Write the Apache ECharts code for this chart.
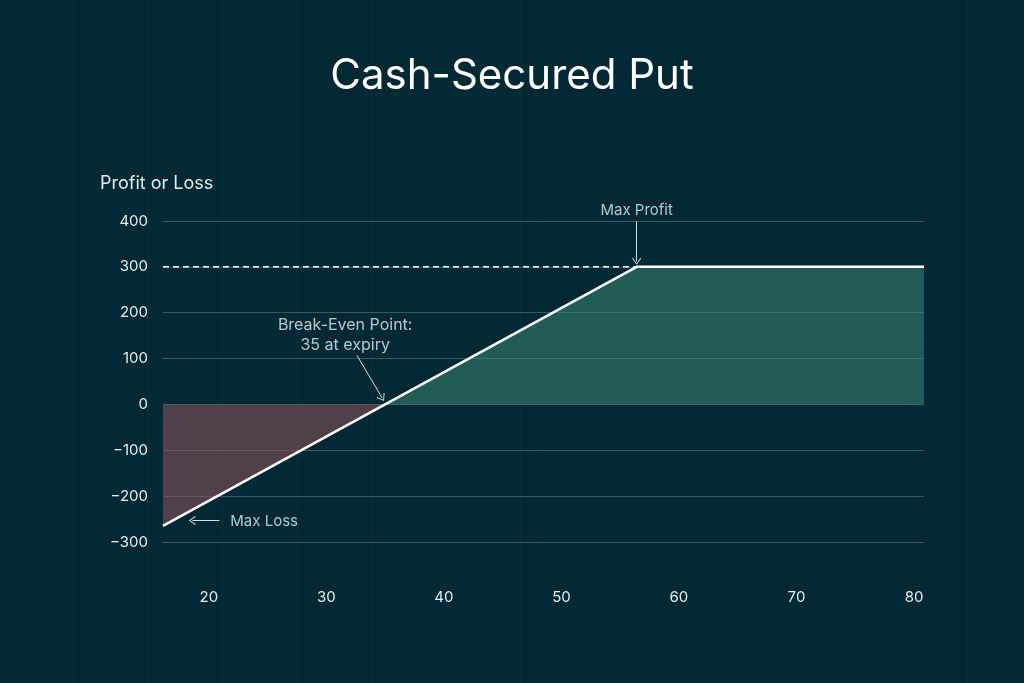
<!DOCTYPE html>
<html>
<head>
    <meta charset="UTF-8">
    <title>Cash-Secured Put</title>
    <script src="https://cdnjs.cloudflare.com/ajax/libs/echarts/6.0.0/echarts.min.js"></script>
    <style>
        html, body {
            margin: 0;
            padding: 0;
        }
        body {
            width: 1024px;
            height: 683px;
            background-color: #022935;
            background-image:
                linear-gradient(to right, rgba(255, 255, 255, 0.022) 1px, transparent 1px),
                linear-gradient(to bottom, rgba(255, 255, 255, 0.022) 1px, transparent 1px);
            background-size: 74.5px 74.5px;
            background-position: -1.5px 44px;
            overflow: hidden;
        }
        #chart {
            width: 1024px;
            height: 683px;
        }
    </style>
</head>
<body>
    <div id="chart"></div>

    <script>
        // payoff at expiry (underlying price -> profit/loss)
        const payoffX = [16.1, 35, 56.4, 80.85];
        const payoffY = [-265, 0, 300, 300];
        const maxProfit = 300;
        const xTickLabels = [20, 30, 40, 50, 60, 70, 80];

        // annotation texts and arrows, in data units
        const noteTexts = ['Max Profit', 'Break-Even Point:\n35 at expiry', 'Max Loss'];
        const noteX = [56.4, 31.6, 21.4];
        const noteY = [424, 150, -255];
        const arrowFrom = [[56.4, 399.5], [32.6, 107], [20.9, -253]];
        const arrowTo = [[56.4, 312], [34.75, 14], [18.6, -253]];

        const fontFamily = 'Inter, "Noto Sans", sans-serif';
        const textColor = '#e4ecec';

        const chart = echarts.init(document.getElementById('chart'), null, { renderer: 'canvas' });

        const payoff = payoffX.map((x, i) => [x, payoffY[i]]);
        const lossPart = payoff.slice(0, 2);
        const profitPart = payoff.slice(1);

        // thin open chevron pointing up
        const chevron = 'path://M6,0 L12,9 L11,10 L6,2.2 L1,10 L0,9 Z';

        const option = {
            backgroundColor: 'transparent',
            animation: false,
            title: [
                {
                    text: 'Cash-Secured Put',
                    left: 'center',
                    top: 55,
                    padding: 0,
                    textStyle: {
                        color: '#ffffff',
                        fontFamily: fontFamily,
                        fontSize: 42,
                        fontWeight: 400
                    }
                },
                {
                    text: 'Profit or Loss',
                    left: 100,
                    top: 175,
                    padding: 0,
                    textStyle: {
                        color: textColor,
                        fontFamily: fontFamily,
                        fontSize: 18,
                        fontWeight: 400
                    }
                }
            ],
            grid: {
                left: 163,
                right: 100,
                top: 221,
                bottom: 141
            },
            xAxis: {
                type: 'value',
                min: payoffX[0],
                max: payoffX[payoffX.length - 1],
                axisLine: { show: false },
                axisTick: { show: false },
                splitLine: { show: false },
                axisLabel: {
                    customValues: xTickLabels,
                    color: textColor,
                    fontFamily: fontFamily,
                    fontSize: 15,
                    margin: 48
                }
            },
            yAxis: {
                type: 'value',
                min: -300,
                max: 400,
                interval: 100,
                axisLine: { show: false },
                axisTick: { show: false },
                axisLabel: {
                    color: textColor,
                    fontFamily: fontFamily,
                    fontSize: 15,
                    margin: 15,
                    formatter: v => (v < 0 ? '\u2212' + Math.abs(v) : String(v))
                },
                splitLine: {
                    lineStyle: { color: 'rgba(255,255,255,0.22)', width: 1 }
                }
            },
            series: [
                {
                    name: 'loss area',
                    type: 'line',
                    data: lossPart,
                    symbol: 'none',
                    lineStyle: { width: 0 },
                    areaStyle: { origin: 0, color: 'rgba(146,83,91,0.55)', opacity: 1 },
                    z: 1
                },
                {
                    name: 'profit area',
                    type: 'line',
                    data: profitPart,
                    symbol: 'none',
                    lineStyle: { width: 0 },
                    areaStyle: { origin: 0, color: 'rgba(62,134,115,0.55)', opacity: 1 },
                    z: 1
                },
                {
                    name: 'max profit level',
                    type: 'line',
                    data: [[payoffX[0], maxProfit], [payoffX[2], maxProfit]],
                    symbol: 'none',
                    lineStyle: { color: '#ffffff', width: 1.5, type: [6, 4] },
                    z: 2,
                    markLine: {
                        silent: true,
                        symbol: ['none', chevron],
                        symbolSize: [9, 7],
                        label: { show: false },
                        lineStyle: { color: '#d6e0e0', width: 1, type: 'solid' },
                        data: arrowFrom.map((p, i) => [
                            { coord: p },
                            { coord: arrowTo[i] }
                        ])
                    }
                },
                {
                    name: 'payoff',
                    type: 'line',
                    data: payoff,
                    symbol: 'none',
                    lineStyle: { color: '#ffffff', width: 2.5 },
                    z: 3
                },
                {
                    name: 'notes',
                    type: 'scatter',
                    symbolSize: 0,
                    silent: true,
                    clip: false,
                    data: noteTexts.map((t, i) => ({
                        value: [noteX[i], noteY[i]],
                        name: t,
                        label: {
                            align: i === 2 ? 'left' : 'center',
                            position: i === 2 ? 'right' : 'inside',
                            fontSize: i === 1 ? 16 : 15
                        }
                    })),
                    label: {
                        show: true,
                        formatter: p => p.name,
                        color: textColor,
                        fontFamily: fontFamily,
                        fontSize: 15,
                        lineHeight: 20
                    },
                    z: 4
                }
            ]
        };

        chart.setOption(option);
    </script>
</body>
</html>
